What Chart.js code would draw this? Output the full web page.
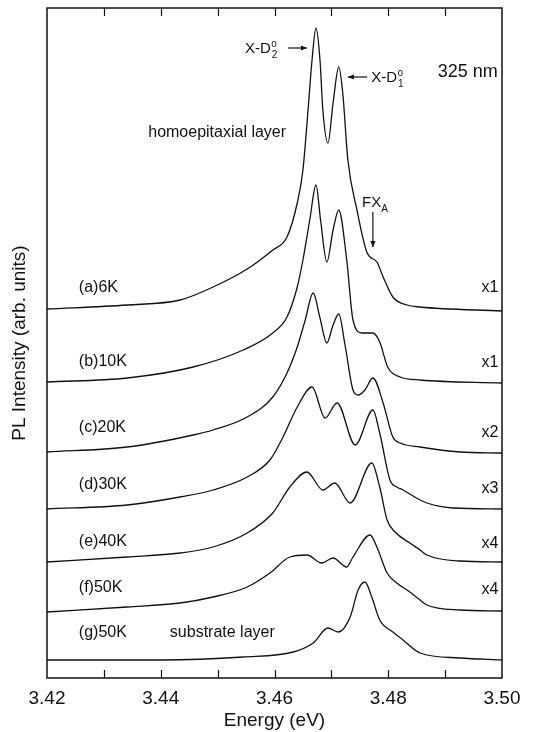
<!DOCTYPE html>
<html>
<head>
<meta charset="utf-8">
<script src="https://cdn.jsdelivr.net/npm/chart.js@4/dist/chart.umd.min.js"></script>
<style>
  html, body { margin: 0; padding: 0; background: #fff; }
  #wrap { width: 553px; height: 732px; }
</style>
</head>
<body>
<div id="wrap"><canvas id="c" width="553" height="732"></canvas></div>
<script>
// ---- Data (energy in eV, intensity in arbitrary offset units) ----
const sampleLabels = ['(a)6K', '(b)10K', '(c)20K', '(d)30K', '(e)40K', '(f)50K', '(g)50K'];
const gainLabels = ['x1', 'x1', 'x2', 'x3', 'x4', 'x4'];
const xTickValues = [3.42, 3.44, 3.46, 3.48, 3.50];

const energyA = [3.4200, 3.4341, 3.4434, 3.4492, 3.4552, 3.4597, 3.4622, 3.4640, 3.4650, 3.4659, 3.4666, 3.4673, 3.4680, 3.4685, 3.4694, 3.4703, 3.4713, 3.4720, 3.4729, 3.4745, 3.4763, 3.4780, 3.4791, 3.4808, 3.4833, 3.4856, 3.5000];
const intensA = [369, 373, 378, 391, 409, 428, 441, 475, 508, 568, 618, 650, 618, 568, 535, 575, 611, 585, 518, 468, 425, 416, 401, 381, 373, 371, 367];

const energyB = [3.4200, 3.4341, 3.4457, 3.4545, 3.4597, 3.4622, 3.4640, 3.4650, 3.4662, 3.4673, 3.4681, 3.4692, 3.4703, 3.4713, 3.4727, 3.4738, 3.4754, 3.4773, 3.4785, 3.4799, 3.4821, 3.4856, 3.5000];
const intensB = [296, 300, 311, 328, 345, 361, 391, 418, 458, 493, 458, 416, 448, 468, 418, 358, 345, 345, 336, 311, 301, 298, 295];

const energyC = [3.4200, 3.4341, 3.4457, 3.4492, 3.4552, 3.4597, 3.4622, 3.4640, 3.4654, 3.4668, 3.4680, 3.4692, 3.4703, 3.4713, 3.4724, 3.4738, 3.4747, 3.4759, 3.4773, 3.4791, 3.4808, 3.4821, 3.4856, 3.4926, 3.5000];
const intensC = [226, 231, 243, 248, 261, 281, 305, 331, 358, 385, 360, 335, 353, 364, 333, 288, 283, 288, 300, 275, 241, 235, 231, 226, 225];

const energyD = [3.4200, 3.4341, 3.4434, 3.4492, 3.4552, 3.4592, 3.4615, 3.4640, 3.4666, 3.4689, 3.4710, 3.4742, 3.4773, 3.4785, 3.4803, 3.4815, 3.4826, 3.4856, 3.4868, 3.4914, 3.5000];
const intensD = [169, 173, 181, 188, 201, 218, 241, 271, 291, 260, 275, 233, 268, 245, 198, 191, 188, 178, 175, 170, 169];

const energyE = [3.4200, 3.4341, 3.4434, 3.4492, 3.4552, 3.4597, 3.4627, 3.4657, 3.4685, 3.4706, 3.4733, 3.4771, 3.4785, 3.4798, 3.4812, 3.4838, 3.4856, 3.4868, 3.4926, 3.5000];
const intensE = [116, 121, 125, 131, 145, 165, 191, 206, 188, 195, 175, 215, 191, 158, 146, 135, 128, 123, 117, 116];

const energyF = [3.4200, 3.4341, 3.4434, 3.4492, 3.4552, 3.4592, 3.4627, 3.4657, 3.4683, 3.4703, 3.4727, 3.4738, 3.4768, 3.4780, 3.4798, 3.4815, 3.4838, 3.4856, 3.4868, 3.4926, 3.5000];
const intensF = [66, 71, 75, 81, 91, 105, 121, 123, 115, 120, 111, 121, 143, 131, 105, 95, 86, 78, 73, 68, 67];

const energyG = [3.4200, 3.4399, 3.4545, 3.4633, 3.4668, 3.4694, 3.4712, 3.4733, 3.4747, 3.4759, 3.4771, 3.4785, 3.4808, 3.4826, 3.4856, 3.4926, 3.5000];
const intensG = [18, 18, 21, 26, 35, 50, 46, 61, 88, 96, 81, 58, 46, 38, 25, 20, 18];

const seriesEnergy = [energyA, energyB, energyC, energyD, energyE, energyF, energyG];
const seriesIntens = [intensA, intensB, intensC, intensD, intensE, intensF, intensG];

// ---- Label placement (data coordinates) ----
const sampleLabelX = 3.4256;
const sampleLabelY = [390, 316, 250, 193, 136, 90, 45];
const gainLabelX = 3.4964;
const gainLabelY = [390, 315, 245, 189, 134, 88];

const FONT = '"Liberation Sans", Arial, Helvetica, sans-serif';

const datasets = seriesEnergy.map((en, i) => ({
  label: sampleLabels[i],
  data: en.map((e, j) => ({ x: e, y: seriesIntens[i][j] })),
  showLine: true,
  pointRadius: 0,
  borderColor: '#111',
  borderWidth: 1.3,
  cubicInterpolationMode: 'monotone',
  fill: false
}));

function arrow(ctx, x1, y1, x2, y2) {
  ctx.beginPath();
  ctx.moveTo(x1, y1);
  ctx.lineTo(x2, y2);
  ctx.stroke();
  const a = Math.atan2(y2 - y1, x2 - x1);
  const L = 6, W = 2.6;
  ctx.beginPath();
  ctx.moveTo(x2, y2);
  ctx.lineTo(x2 - L * Math.cos(a) + W * Math.sin(a), y2 - L * Math.sin(a) - W * Math.cos(a));
  ctx.lineTo(x2 - L * Math.cos(a) - W * Math.sin(a), y2 - L * Math.sin(a) + W * Math.cos(a));
  ctx.closePath();
  ctx.fill();
}

const framePlugin = {
  id: 'frame',
  afterDraw(chart) {
    const { ctx, chartArea: a, scales } = chart;
    const xs = scales.x, ys = scales.y;
    ctx.save();
    ctx.strokeStyle = '#111';
    ctx.fillStyle = '#111';
    ctx.lineWidth = 1.5;
    ctx.strokeRect(a.left, a.top, a.right - a.left, a.bottom - a.top);
    // inward ticks every 0.01 eV, bottom and top
    ctx.lineWidth = 1.2;
    for (let k = 1; k < 8; k++) {
      const px = Math.round(xs.getPixelForValue(3.42 + k * 0.01)) + 0.5;
      ctx.beginPath();
      ctx.moveTo(px, a.bottom); ctx.lineTo(px, a.bottom - 8);
      ctx.moveTo(px, a.top); ctx.lineTo(px, a.top + 8);
      ctx.stroke();
    }
    ctx.textBaseline = 'middle';
    ctx.textAlign = 'left';
    ctx.font = '16px ' + FONT;
    sampleLabels.forEach((t, i) => {
      ctx.fillText(t, xs.getPixelForValue(sampleLabelX), ys.getPixelForValue(sampleLabelY[i]));
    });
    gainLabels.forEach((t, i) => {
      ctx.fillText(t, xs.getPixelForValue(gainLabelX), ys.getPixelForValue(gainLabelY[i]));
    });
    ctx.fillText('homoepitaxial layer', xs.getPixelForValue(3.4378), ys.getPixelForValue(545));
    ctx.fillText('substrate layer', xs.getPixelForValue(3.4416), ys.getPixelForValue(45));
    ctx.font = '18px ' + FONT;
    ctx.fillText('325 nm', xs.getPixelForValue(3.4887), ys.getPixelForValue(606));

    // X-D°2 label with arrow to the right
    ctx.font = '15px ' + FONT;
    let x0 = xs.getPixelForValue(3.4548), y0 = ys.getPixelForValue(629);
    ctx.fillText('X-D', x0, y0);
    let w = ctx.measureText('X-D').width;
    ctx.font = '10px ' + FONT;
    ctx.fillText('o', x0 + w + 0.5, y0 - 5);
    ctx.fillText('2', x0 + w + 1, y0 + 6);
    ctx.lineWidth = 1.2;
    arrow(ctx, xs.getPixelForValue(3.4624), ys.getPixelForValue(630), xs.getPixelForValue(3.4657), ys.getPixelForValue(630));

    // X-D°1 label with arrow to the left
    arrow(ctx, xs.getPixelForValue(3.4763), ys.getPixelForValue(601), xs.getPixelForValue(3.4729), ys.getPixelForValue(601));
    ctx.font = '15px ' + FONT;
    x0 = xs.getPixelForValue(3.4770); y0 = ys.getPixelForValue(600);
    ctx.fillText('X-D', x0, y0);
    w = ctx.measureText('X-D').width;
    ctx.font = '10px ' + FONT;
    ctx.fillText('o', x0 + w + 0.5, y0 - 5);
    ctx.fillText('1', x0 + w + 1, y0 + 6);

    // FX_A label with downward arrow
    ctx.font = '15px ' + FONT;
    x0 = xs.getPixelForValue(3.4754); y0 = ys.getPixelForValue(475);
    ctx.fillText('FX', x0, y0);
    w = ctx.measureText('FX').width;
    ctx.font = '10px ' + FONT;
    ctx.fillText('A', x0 + w, y0 + 6);
    arrow(ctx, xs.getPixelForValue(3.4773), ys.getPixelForValue(466), xs.getPixelForValue(3.4773), ys.getPixelForValue(431));
    ctx.restore();
  }
};

new Chart(document.getElementById('c'), {
  type: 'scatter',
  data: { datasets },
  options: {
    responsive: false,
    animation: false,
    devicePixelRatio: 1,
    layout: { padding: { top: 8, right: 51, left: 0, bottom: 0 } },
    plugins: { legend: { display: false }, tooltip: { enabled: false } },
    scales: {
      x: {
        type: 'linear',
        min: 3.42,
        max: 3.50,
        afterFit: s => { s.height = 54; },
        afterBuildTicks: s => { s.ticks = xTickValues.map(v => ({ value: v })); },
        ticks: {
          autoSkip: false,
          maxRotation: 0,
          padding: 9,
          color: '#111',
          font: { family: FONT, size: 19 },
          callback: v => Number(v).toFixed(2)
        },
        grid: { display: false, drawTicks: false },
        border: { display: false },
        title: {
          display: true,
          text: 'Energy (eV)',
          color: '#111',
          font: { family: FONT, size: 19 },
          padding: { top: 0, bottom: 0 }
        }
      },
      y: {
        min: 0,
        max: 670,
        afterFit: s => { s.width = 47; },
        ticks: { display: false },
        grid: { display: false, drawTicks: false },
        border: { display: false },
        title: {
          display: true,
          text: 'PL Intensity (arb. units)',
          color: '#111',
          font: { family: FONT, size: 19 },
          padding: { top: 8, bottom: 0 }
        }
      }
    }
  },
  plugins: [framePlugin]
});
</script>
</body>
</html>
